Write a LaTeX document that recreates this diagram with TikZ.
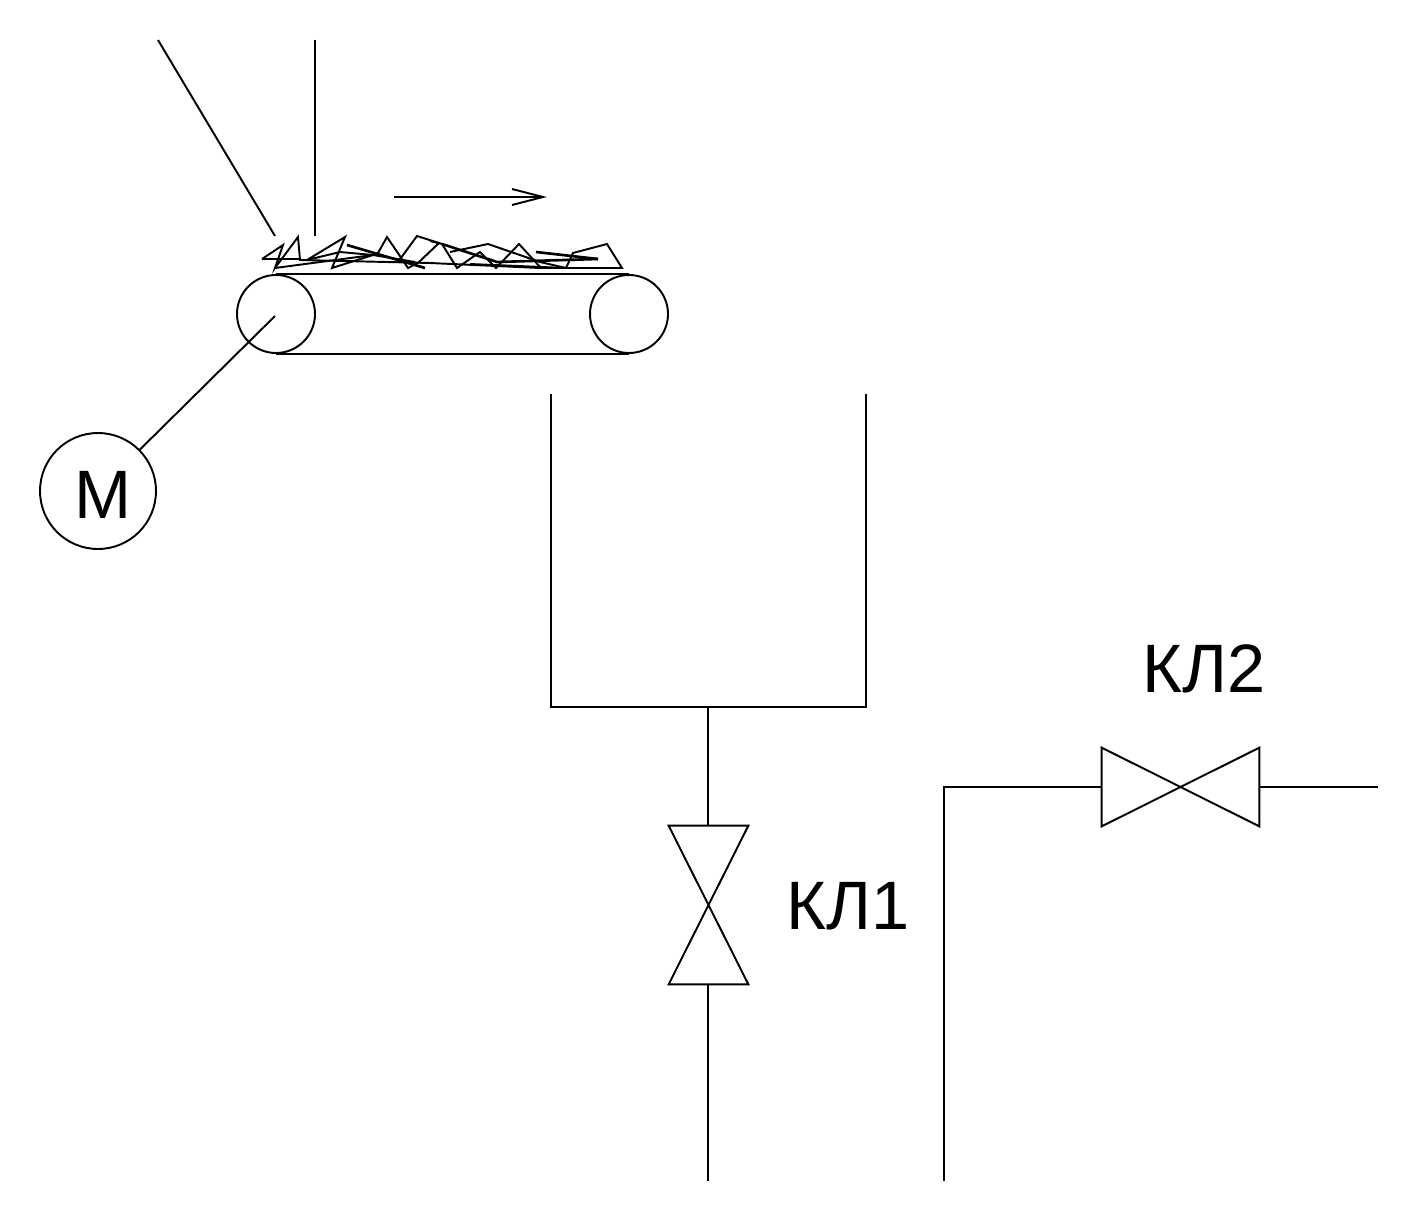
\documentclass[tikz,border=0pt]{standalone}
\usepackage{fontspec}
\setmainfont{Liberation Sans}
\usetikzlibrary{positioning}
\tikzset{
  line/.style={draw, line width=1.1pt},
  pulley/.style={draw, circle, line width=1.1pt, minimum size=1.56cm, inner sep=0pt},
  motor/.style={draw, circle, line width=1.1pt, minimum size=2.32cm, inner sep=0pt},
  lab/.style={inner sep=0pt, font=\fontsize{39}{41}\selectfont},
  valvev/.style={minimum width=1.58cm, minimum height=3.16cm, inner sep=0pt},
  valveh/.style={minimum width=3.14cm, minimum height=1.56cm, inner sep=0pt}
}
\begin{document}
\begin{tikzpicture}[x=0.02cm, y=-0.02cm]
  \useasboundingbox (0,0) rectangle (1417,1220);

  % conveyor
  \node[pulley] (drive) at (276,314) {};
  \node[pulley] (idler) at (629,314) {};
  \draw[line] (drive.north) -- (idler.north);
  \draw[line] (drive.south) -- (idler.south);
  \node[motor] (m) at (98,491) {};
  \node[lab] (mlab) at (103,495) {М};
  \coordinate (shaft) at (275,316);
  \draw[line] (m) -- (shaft);

  % feed lines and direction
  \coordinate (feed1a) at (158,40);
  \coordinate (feed1b) at (275,236);
  \coordinate (feed2a) at (315,40);
  \coordinate (feed2b) at (315,236);
  \draw[line] (feed1a) -- (feed1b);
  \draw[line] (feed2a) -- (feed2b);
  \coordinate (dir1) at (394,197);
  \coordinate (dir2) at (543,197);
  \draw[line] (dir1) -- (dir2);
  \draw[line] (512,189) -- (dir2) -- (512,205);

  % material on the belt
  \draw[line] (262,259) -- (300,259) (262,259) -- (283,245) -- (275,268) -- (298,237) -- (300,260)
    -- (430,263) -- (540,268) -- (622,268) -- (607,244) -- (573,253) -- (566,268) -- (470,264);
  \draw[line] (275,268) -- (373,255) -- (378,253) -- (387,237) -- (408,268) -- (418,263)
    -- (439,243) -- (417,236) -- (398,262);
  \draw[line] (307,260) -- (345,237) -- (332,268) -- (373,255);
  \draw[line] (307,260) -- (340,252) -- (373,255) -- (415,262);
  \draw[line, line width=1.5pt] (347,245) -- (425,268);
  \draw[line] (430,241) -- (442,244) -- (457,268) -- (480,252) -- (496,268) -- (519,244) -- (541,268);
  \draw[line, line width=1.5pt] (442,244) -- (497,262) -- (598,259);
  \draw[line] (450,252) -- (488,244) -- (540,262) -- (566,268);
  \draw[line, line width=1.5pt] (536,252) -- (598,259);

  % hopper
  \coordinate (tl) at (551,394);
  \coordinate (bl) at (551,707);
  \coordinate (br) at (866,707);
  \coordinate (tr) at (866,394);
  \coordinate (outlet) at (708,707);
  \draw[line] (tl) -- (bl) -- (br) -- (tr);

  % valve 1
  \node[valvev] (kl1) at (708.5,905) {};
  \draw[line] (kl1.north west) -- (kl1.north east) -- (kl1.south west) -- (kl1.south east) -- cycle;
  \node[lab] (kl1lab) at (848,906) {КЛ1};
  \coordinate (pipe1) at (708,1181);
  \draw[line] (outlet) -- (outlet |- kl1.north);
  \draw[line] (outlet |- kl1.south) -- (pipe1);

  % valve 2
  \node[valveh] (kl2) at (1180.5,787) {};
  \draw[line] (kl2.north west) -- (kl2.south west) -- (kl2.north east) -- (kl2.south east) -- cycle;
  \node[lab] (kl2lab) at (1204,669) {КЛ2};
  \coordinate (pipe2) at (944,1181);
  \coordinate (bend) at (944,787);
  \coordinate (pipe3) at (1378,787);
  \draw[line] (pipe2) -- (bend) -- (kl2.west);
  \draw[line] (kl2.east) -- (pipe3);
\end{tikzpicture}
\end{document}
